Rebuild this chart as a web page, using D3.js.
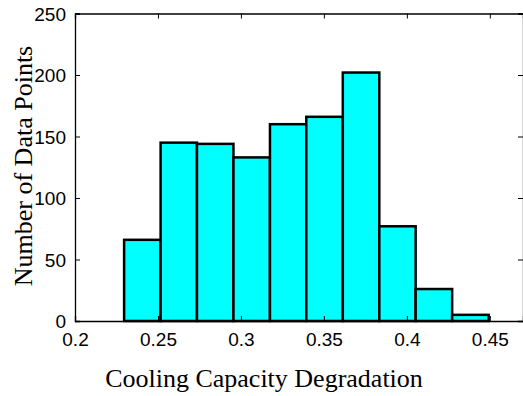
<!DOCTYPE html>
<html>
<head>
<meta charset="utf-8">
<script src="https://cdn.jsdelivr.net/npm/d3@7"></script>
<style>
  body { margin: 0; background: #fff; }
  svg { display: block; }
</style>
</head>
<body>
<div id="plot"></div>
<script>
// histogram bins
const binEdges = [0.2296, 0.2516, 0.2735, 0.2955, 0.3175, 0.3394, 0.3614, 0.3834, 0.4053, 0.4273, 0.4493];
const counts = [66, 145, 144, 133, 160, 166, 202, 77, 26, 5];
const xTicks = [0.2, 0.25, 0.3, 0.35, 0.4, 0.45];
const yTicks = [0, 50, 100, 150, 200, 250];
const xLabel = "Cooling Capacity Degradation";
const yLabel = "Number of Data Points";

const W = 523, H = 396;
const margin = {left: 75, right: 523, top: 13.5, bottom: 321};

const svg = d3.select("#plot")
    .append("svg")
    .attr("width", W)
    .attr("height", H);

const x = d3.scaleLinear().domain([0.2, 0.47]).range([margin.left, margin.right]);
const y = d3.scaleLinear().domain([0, 250]).range([margin.bottom, margin.top]);

const bins = counts.map((c, i) => ({ x0: binEdges[i], x1: binEdges[i + 1], n: c }));

// bars
svg.append("g")
    .selectAll("rect")
    .data(bins)
    .enter()
    .append("rect")
    .attr("x", d => x(d.x0))
    .attr("y", d => y(d.n))
    .attr("width", d => x(d.x1) - x(d.x0))
    .attr("height", d => y(0) - y(d.n))
    .attr("fill", "#00ffff")
    .attr("stroke", "#000")
    .attr("stroke-width", 2.5);

const tickFont = "'Liberation Sans', Arial, sans-serif";

// bottom axis (ticks point inward)
const xb = svg.append("g")
    .attr("transform", "translate(0," + margin.bottom + ")")
    .call(d3.axisBottom(x).tickValues(xTicks).tickSize(-5).tickPadding(12)
        .tickFormat(d => d3.format("")(d)));
// top axis, no labels
const xt = svg.append("g")
    .attr("transform", "translate(0," + margin.top + ")")
    .call(d3.axisTop(x).tickValues(xTicks).tickSize(-5).tickFormat(""));
// left axis
const yl = svg.append("g")
    .attr("transform", "translate(" + margin.left + ",0)")
    .call(d3.axisLeft(y).tickValues(yTicks).tickSize(-5).tickPadding(9));
// right axis
const yr = svg.append("g")
    .attr("transform", "translate(" + margin.right + ",0)")
    .call(d3.axisRight(y).tickValues(yTicks).tickSize(-5).tickFormat(""));

[xb, xt, yl, yr].forEach(g => {
  g.select(".domain").attr("stroke", "#000").attr("stroke-width", 1.3);
  g.selectAll(".tick line").attr("stroke", "#000").attr("stroke-width", 1);
  g.selectAll("text")
      .attr("fill", "#000")
      .style("font-family", tickFont)
      .style("font-size", "19px");
});
xb.selectAll(".tick text").attr("dy", "0.71em");
yl.selectAll(".tick text").attr("dy", "0.35em");

// axis titles
svg.append("text")
    .attr("x", 264)
    .attr("y", 387)
    .attr("text-anchor", "middle")
    .style("font-family", "'Liberation Serif', 'Times New Roman', serif")
    .style("font-size", "26px")
    .attr("fill", "#000")
    .text(xLabel);

svg.append("text")
    .attr("transform", "translate(32,166) rotate(-90)")
    .attr("text-anchor", "middle")
    .style("font-family", "'Liberation Serif', 'Times New Roman', serif")
    .style("font-size", "26px")
    .attr("fill", "#000")
    .text(yLabel);
</script>
</body>
</html>
